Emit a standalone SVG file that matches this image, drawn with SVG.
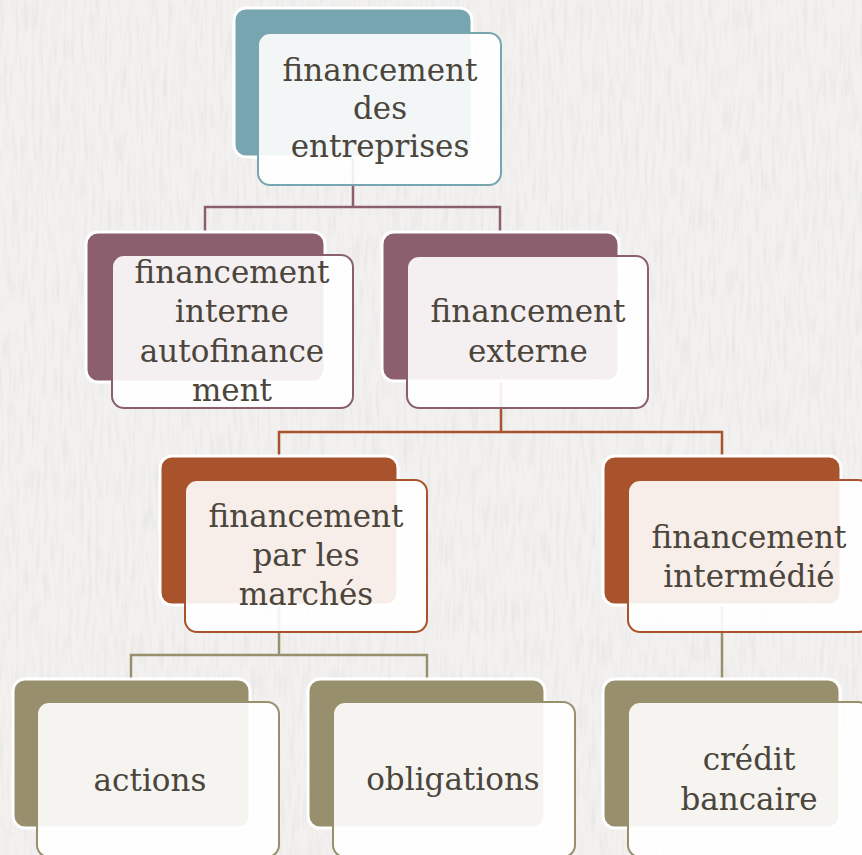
<svg xmlns="http://www.w3.org/2000/svg" width="862" height="855" viewBox="0 0 862 855">
<defs>
<filter id="tex" x="0" y="0" width="100%" height="100%">
<feTurbulence type="fractalNoise" baseFrequency="0.25 0.03" numOctaves="2" seed="4" result="n"/>
<feColorMatrix in="n" type="matrix" values="0 0 0 0 0.5  0 0 0 0 0.5  0 0 0 0 0.5  0 0 0 -1.6 0.9" result="a"/>
<feComposite in="a" in2="SourceGraphic" operator="in"/>
</filter>
<style>
.lbl{font-family:"DejaVu Serif","Liberation Serif",serif;font-size:31px;fill:#4B453B;text-anchor:middle}
.back{stroke:#ffffff;stroke-width:3}
.front{fill:#ffffff;fill-opacity:0.9;stroke-width:2}
.teal .back{fill:#77A5B0}.teal .front{stroke:#77A5B0}
.mauve .back{fill:#8C5F6E}.mauve .front{stroke:#8C5F6E}
.rust .back{fill:#A8532B}.rust .front{stroke:#A8532B}
.olive .back{fill:#988F6C}.olive .front{stroke:#988F6C}
.conn{fill:none;stroke-width:2.5}
</style>
</defs>
<rect width="862" height="855" fill="#F2F1F0"/>
<rect width="862" height="855" fill="#D8D6D2" filter="url(#tex)" opacity="0.25"/>
<g id="connectors">
<path class="conn" stroke="#8C5F6E" d="M353 157V207M205 232V207H500V232"/>
<path class="conn" stroke="#A8532B" d="M501 381V432M279 456V432H722V456"/>
<path class="conn" stroke="#988F6C" d="M279 605V655M131 679V655H427V679M722 605V679"/>
</g>
<g id="n1" class="teal">
<rect class="back" x="234" y="8" width="238" height="149" rx="12"/>
<rect class="front" x="258" y="33" width="243" height="152" rx="12"/>
<text class="lbl" x="380" y="81">financement</text>
<text class="lbl" x="380" y="119">des</text>
<text class="lbl" x="380" y="157">entreprises</text>
</g>
<g id="n2" class="mauve">
<rect class="back" x="86" y="232" width="239" height="150" rx="12"/>
<rect class="front" x="112" y="255" width="241" height="153" rx="12"/>
<text class="lbl" x="232" y="283">financement</text>
<text class="lbl" x="232" y="322">interne</text>
<text class="lbl" x="232" y="362">autofinance</text>
<text class="lbl" x="232" y="401">ment</text>
</g>
<g id="n3" class="mauve">
<rect class="back" x="382" y="232" width="237" height="149" rx="12"/>
<rect class="front" x="407" y="256" width="241" height="152" rx="12"/>
<text class="lbl" x="528" y="322">financement</text>
<text class="lbl" x="528" y="362">externe</text>
</g>
<g id="n4" class="rust">
<rect class="back" x="160" y="456" width="238" height="149" rx="12"/>
<rect class="front" x="185" y="480" width="242" height="152" rx="12"/>
<text class="lbl" x="306" y="527">financement</text>
<text class="lbl" x="306" y="566">par les</text>
<text class="lbl" x="306" y="605">marchés</text>
</g>
<g id="n5" class="rust">
<rect class="back" x="603" y="456" width="238" height="149" rx="12"/>
<rect class="front" x="628" y="480" width="242" height="152" rx="12"/>
<text class="lbl" x="749" y="548">financement</text>
<text class="lbl" x="749" y="587">intermédié</text>
</g>
<g id="n6" class="olive">
<rect class="back" x="13" y="679" width="237" height="149" rx="12"/>
<rect class="front" x="37" y="702" width="242" height="155" rx="12"/>
<text class="lbl" x="150" y="791">actions</text>
</g>
<g id="n7" class="olive">
<rect class="back" x="308" y="679" width="237" height="149" rx="12"/>
<rect class="front" x="333" y="702" width="242" height="155" rx="12"/>
<text class="lbl" x="453" y="790">obligations</text>
</g>
<g id="n8" class="olive">
<rect class="back" x="603" y="679" width="237" height="149" rx="12"/>
<rect class="front" x="628" y="702" width="242" height="155" rx="12"/>
<text class="lbl" x="749" y="770">crédit</text>
<text class="lbl" x="749" y="810">bancaire</text>
</g>
</svg>
